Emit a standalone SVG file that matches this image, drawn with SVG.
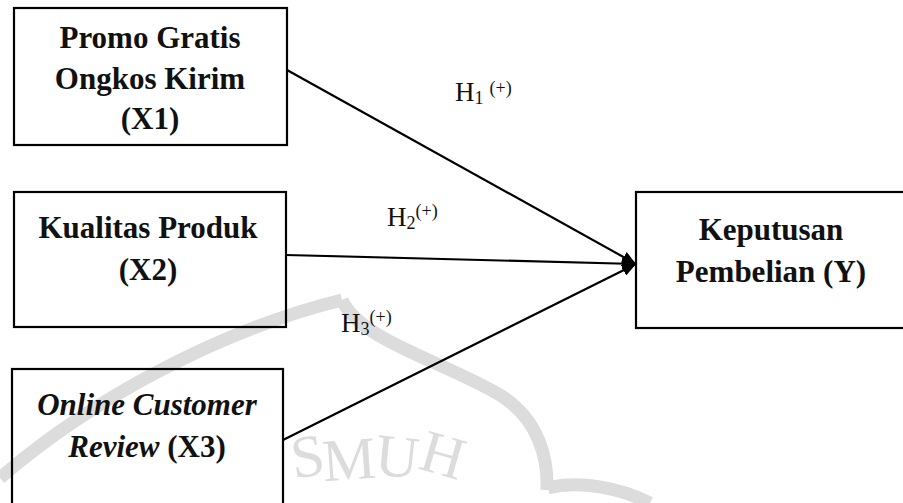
<svg xmlns="http://www.w3.org/2000/svg" width="903" height="503" viewBox="0 0 903 503">
<defs>
<style>
.box{fill:none;stroke:#000;stroke-width:2.2}
.lbl{font-family:"Liberation Serif","Times New Roman",serif;font-weight:bold;font-size:31px;fill:#111;text-anchor:middle}
.it{font-style:italic}
.h{font-family:"Liberation Serif","Times New Roman",serif;font-size:27px;fill:#111}
.sub{font-size:18px}
.conn{stroke:#000;stroke-width:2.2;fill:none}
.wm{fill:none;stroke:#dcdcdc;stroke-width:13;stroke-linecap:butt}
.wmt{font-family:"Liberation Serif","Times New Roman",serif;font-size:60px;fill:#dcdcdc}
</style>
<marker id="arr" viewBox="0 0 14 12" refX="14" refY="6" markerWidth="14" markerHeight="12" markerUnits="userSpaceOnUse" orient="auto">
<path d="M0,0 L14,6 L0,12 z" fill="#000"/>
</marker>
</defs>
<rect width="903" height="503" fill="#fff"/>
<g id="watermark">
<path class="wm" d="M0,478 C90,400 220,330 342,300"/>
<path class="wm" d="M342,300 C360,340 440,360 500,395 C540,420 548,460 547,490"/>
<path class="wm" d="M548,488 C580,480 620,488 650,503"/>
<text class="wmt" x="290" y="476" transform="rotate(-8 310 450)">S</text>
<text class="wmt" x="322" y="480" transform="rotate(-4 340 455)">M</text>
<text class="wmt" x="376" y="476" transform="rotate(6 392 452)">U</text>
<text class="wmt" x="422" y="474" transform="rotate(16 440 452)">H</text>
</g>
<g id="connectors">
<line class="conn" x1="287" y1="70" x2="636" y2="264" marker-end="url(#arr)"/>
<line class="conn" x1="286" y1="255" x2="636" y2="264" marker-end="url(#arr)"/>
<line class="conn" x1="283" y1="440" x2="636" y2="264" marker-end="url(#arr)"/>
</g>
<g id="X1">
<rect class="box" x="14" y="8" width="273" height="137"/>
<text class="lbl" x="150" y="48">Promo Gratis</text>
<text class="lbl" x="150" y="89">Ongkos Kirim</text>
<text class="lbl" x="150" y="129">(X1)</text>
</g>
<g id="X2">
<rect class="box" x="14" y="192" width="272" height="135"/>
<text class="lbl" x="148" y="238">Kualitas Produk</text>
<text class="lbl" x="148" y="280">(X2)</text>
</g>
<g id="X3">
<rect class="box" x="12" y="369" width="271" height="150"/>
<text class="lbl it" x="147" y="415">Online Customer</text>
<text class="lbl" x="147" y="457"><tspan class="it">Review</tspan> (X3)</text>
</g>
<g id="Y">
<rect class="box" x="636" y="192" width="275" height="136"/>
<text class="lbl" x="771" y="240">Keputusan</text>
<text class="lbl" x="771" y="282">Pembelian (Y)</text>
</g>
<g id="labels">
<text class="h" x="455" y="101">H<tspan class="sub" dy="3">1</tspan><tspan class="sub" dx="6" dy="-10">(+)</tspan></text>
<text class="h" x="387" y="226">H<tspan class="sub" dy="3">2</tspan><tspan class="sub" dy="-12">(+)</tspan></text>
<text class="h" x="341" y="332">H<tspan class="sub" dy="3">3</tspan><tspan class="sub" dy="-12">(+)</tspan></text>
</g>
</svg>
